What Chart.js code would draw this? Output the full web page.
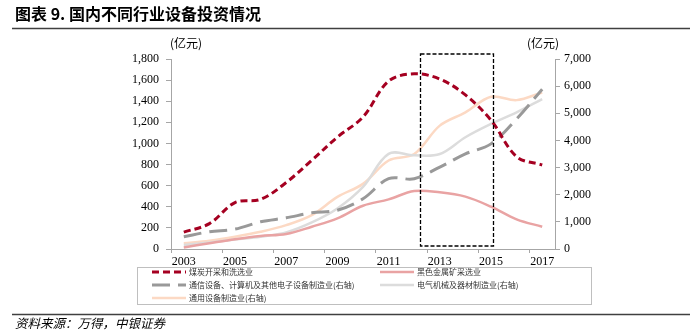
<!DOCTYPE html>
<html>
<head>
<meta charset="utf-8">
<script src="https://cdn.jsdelivr.net/npm/chart.js@4/dist/chart.umd.min.js"></script>
<style>
  html, body { margin: 0; padding: 0; background: #fff; }
  canvas { display: block; }
</style>
</head>
<body>
<canvas id="equipChart" width="697" height="335"></canvas>
<script>
// 年份与各行业设备投资（亿元）
var years = ['2003', '2004', '2005', '2006', '2007', '2008', '2009', '2010',
             '2011', '2012', '2013', '2014', '2015', '2016', '2017'];
// 左轴
var coal     = [160, 240, 440, 470, 630, 840, 1060, 1250, 1590, 1660, 1610, 1460, 1220, 875, 796];
var ferrous  = [15, 54, 92, 123, 142, 211, 290, 410, 470, 549, 537, 496, 401, 281, 211];
// 右轴
var telecom  = [452, 635, 733, 1002, 1148, 1332, 1429, 1850, 2590, 2590, 3017, 3506, 3873, 4789, 5888];
var electric = [147, 244, 354, 452, 611, 977, 1490, 2285, 3506, 3450, 3500, 4117, 4606, 5033, 5522];
var general  = [208, 305, 452, 635, 880, 1246, 1918, 2400, 3262, 3500, 4545, 5033, 5608, 5485, 5766];

var seriesNames = ['煤炭开采和洗选业', '黑色金属矿采选业',
                   '通信设备、计算机及其他电子设备制造业(右轴)',
                   '电气机械及器材制造业(右轴)', '通用设备制造业(右轴)'];

var serif = "'Liberation Serif', 'Times New Roman', serif";
var cjk = "'Noto Sans CJK SC', sans-serif";
var axisGray = '#a6a6a6';

// 标题、单位、虚线框、图例和来源
var decorations = {
  id: 'decorations',
  afterDraw: function (chart) {
    var ctx = chart.ctx;
    var area = chart.chartArea;
    var xs = chart.scales.x;
    ctx.save();

    ctx.fillStyle = '#000';
    ctx.textBaseline = 'middle';
    ctx.font = 'bold 16px ' + cjk;
    ctx.fillText('图表 9. 国内不同行业设备投资情况', 15, 14);

    ctx.strokeStyle = '#404040';
    ctx.lineWidth = 1.5;
    ctx.beginPath();
    ctx.moveTo(12, 28.5); ctx.lineTo(690, 28.5);
    ctx.moveTo(12, 314.5); ctx.lineTo(690, 314.5);
    ctx.stroke();

    ctx.font = '12px ' + cjk;
    ctx.textAlign = 'center';
    ctx.fillText('(亿元)', 186, 43);
    ctx.fillText('(亿元)', 543, 43);

    // 2013-2015 区间虚线框
    var bx0 = Math.round(xs.getPixelForValue(9.23)) + 0.5;
    var bx1 = Math.round(xs.getPixelForValue(12.08)) + 0.5;
    ctx.strokeStyle = '#000';
    ctx.lineWidth = 1.3;
    ctx.setLineDash([4, 2]);
    ctx.strokeRect(bx0, area.top - 5, bx1 - bx0, area.bottom - area.top + 2);
    ctx.setLineDash([]);

    // 图例
    ctx.strokeStyle = '#bfbfbf';
    ctx.lineWidth = 1;
    ctx.strokeRect(137.5, 267.5, 454, 37);
    var cols = [152, 380];
    var rows = [272, 285, 298];
    ctx.textAlign = 'left';
    ctx.font = '8px ' + cjk;
    chart.data.datasets.forEach(function (ds, i) {
      var x = cols[i % 2];
      var y = rows[Math.floor(i / 2)];
      ctx.strokeStyle = ds.borderColor;
      ctx.lineWidth = ds.borderWidth;
      ctx.setLineDash(ds.borderDash || []);
      ctx.beginPath();
      ctx.moveTo(x, y); ctx.lineTo(x + 34, y);
      ctx.stroke();
      ctx.setLineDash([]);
      ctx.fillStyle = '#333';
      ctx.fillText(ds.label, x + 37, y);
    });

    ctx.fillStyle = '#000';
    ctx.font = 'italic 12.5px ' + cjk;
    ctx.fillText('资料来源：万得，中银证券', 15, 323);
    ctx.restore();
  }
};

function line(label, data, color, width, dash, axis) {
  return {
    label: label,
    data: data,
    yAxisID: axis,
    borderColor: color,
    backgroundColor: color,
    borderWidth: width,
    borderDash: dash,
    pointRadius: 0,
    tension: 0.35,
    fill: false
  };
}

new Chart(document.getElementById('equipChart'), {
  type: 'line',
  data: {
    labels: years,
    datasets: [
      line(seriesNames[0], coal, '#a50021', 3, [7, 4], 'y'),
      line(seriesNames[1], ferrous, '#e9a3a3', 2.5, [], 'y'),
      line(seriesNames[2], telecom, '#999999', 3, [18, 8], 'y1'),
      line(seriesNames[3], electric, '#dcdcdc', 2.5, [], 'y1'),
      line(seriesNames[4], general, '#fcd9c4', 2.5, [], 'y1')
    ]
  },
  options: {
    responsive: false,
    animation: false,
    layout: { padding: { left: 111, right: 82, top: 59, bottom: 66 } },
    plugins: { legend: { display: false }, tooltip: { enabled: false } },
    scales: {
      x: {
        offset: true,
        afterFit: function (s) { s.height = 20; },
        border: { display: true, color: axisGray },
        grid: {
          offset: true,
          drawOnChartArea: false,
          tickLength: 4,
          tickColor: function (c) { return c.index % 2 === 0 || c.index === years.length ? axisGray : 'rgba(0,0,0,0)'; }
        },
        ticks: {
          autoSkip: false,
          maxRotation: 0,
          padding: 2,
          color: '#000',
          font: { family: serif, size: 12 },
          callback: function (v, i) { return i % 2 === 0 ? years[i] : ''; }
        }
      },
      y: {
        position: 'left',
        min: 0, max: 1800,
        afterFit: function (s) { s.width = 60; },
        border: { display: true, color: axisGray },
        grid: { drawOnChartArea: false, tickLength: 5, tickColor: axisGray },
        ticks: { stepSize: 200, padding: 7, color: '#000', font: { family: serif, size: 12 } }
      },
      y1: {
        position: 'right',
        min: 0, max: 7000,
        afterFit: function (s) { s.width = 60; },
        border: { display: true, color: axisGray },
        grid: { drawOnChartArea: false, tickLength: 5, tickColor: axisGray },
        ticks: { stepSize: 1000, padding: 4, color: '#000', font: { family: serif, size: 12 } }
      }
    }
  },
  plugins: [decorations]
});
</script>
</body>
</html>
